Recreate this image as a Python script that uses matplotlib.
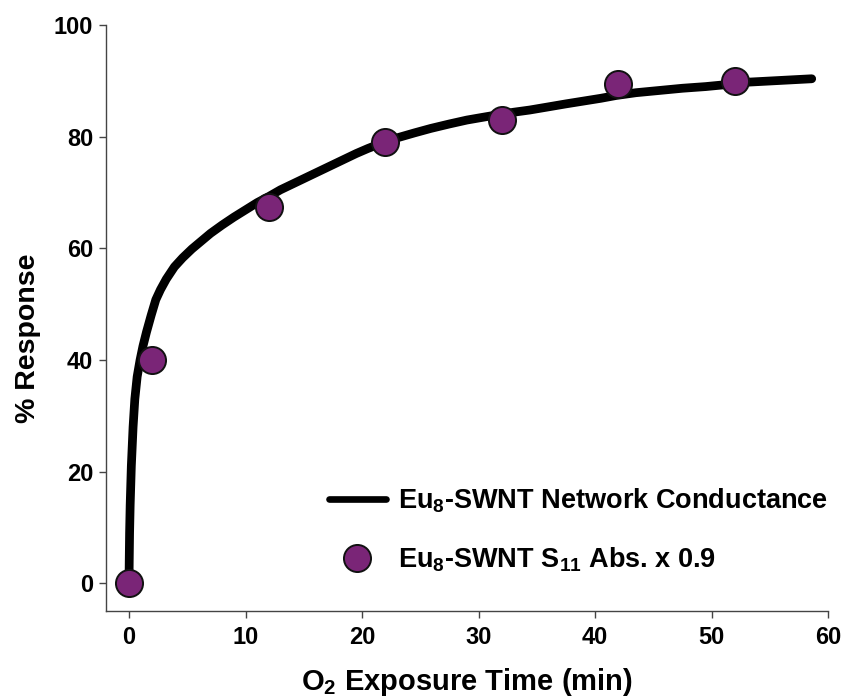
import matplotlib
matplotlib.use("Agg")
import matplotlib.pyplot as plt

plt.rcParams["font.family"] = ["Liberation Sans", "DejaVu Sans"]
plt.rcParams["font.weight"] = "bold"
plt.rcParams["mathtext.fontset"] = "custom"
plt.rcParams["mathtext.rm"] = "Liberation Sans:bold"
plt.rcParams["mathtext.bf"] = "Liberation Sans:bold"
plt.rcParams["mathtext.it"] = "Liberation Sans:bold"
plt.rcParams["mathtext.default"] = "bf"

# Network conductance response (continuous trace)
time_cond = [0.0, 0.02, 0.05, 0.1, 0.2, 0.35, 0.5, 0.7, 0.95, 1.2, 1.5, 1.9, 2.3,
             2.7, 3.2, 3.9, 4.6, 5.4, 6.2, 7.0, 8.0, 9.0, 10.0, 11.0, 12.0, 13.0,
             14.0, 15.0, 16.0, 17.3, 18.5, 19.5, 20.5, 21.6, 23.0, 24.5, 25.9,
             27.5, 29.0, 30.1, 31.5, 33.0, 34.4, 36.1, 37.5, 38.7, 40.5,
             41.8, 43.5, 45.5, 47.5, 49.5, 51.0, 53.2, 55.0, 56.8, 58.6]
resp_cond = [0.0, 4.0, 9.0, 14.0, 21.0, 28.0, 33.0, 37.0, 40.0, 42.5, 45.0, 48.0, 50.8,
             52.6, 54.5, 56.7, 58.3, 59.9, 61.3, 62.7, 64.2, 65.6, 66.9, 68.2, 69.3, 70.5,
             71.5, 72.5, 73.5, 74.8, 76.0, 77.0, 77.9, 78.8, 79.8, 80.7, 81.5,
             82.3, 83.0, 83.4, 83.9, 84.4, 84.8, 85.4, 85.9, 86.3, 86.9,
             87.4, 87.9, 88.3, 88.7, 89.0, 89.3, 89.8, 90.0, 90.2, 90.4]

# S11 absorbance response scaled by 0.9
time_abs = [0, 2, 12, 22, 32, 42, 52]
resp_abs = [0, 40.0, 67.4, 79.1, 83.0, 89.5, 90.0]

x_ticks = [0, 10, 20, 30, 40, 50, 60]
y_ticks = [0, 20, 40, 60, 80, 100]

fig = plt.figure(figsize=(8.49, 7.0), dpi=100)
ax = fig.add_axes([0.1245, 0.127, 0.8508, 0.837])

ax.plot(time_cond, resp_cond, color="black", lw=6.3, solid_capstyle="round",
        solid_joinstyle="round", label=r"Eu$_8$-SWNT Network Conductance", zorder=2)
ax.plot(time_abs, resp_abs, linestyle="none", marker="o", markersize=19.5,
        markerfacecolor="#7a2577", markeredgecolor="#111111", markeredgewidth=1.4,
        label=r"Eu$_8$-SWNT S$_{11}$ Abs. x 0.9", zorder=3, clip_on=False)

ax.set_xlim(-2, 60)
ax.set_ylim(-5, 100)
ax.set_xticks(x_ticks)
ax.set_yticks(y_ticks)

for side in ("top", "right"):
    ax.spines[side].set_visible(False)
for side in ("left", "bottom"):
    ax.spines[side].set_color("#444444")
    ax.spines[side].set_linewidth(1.0)

ax.tick_params(direction="out", length=5, width=1.0, color="#444444", labelsize=17)
ax.tick_params(axis="x", pad=6)
ax.tick_params(axis="y", pad=4)
for lab in ax.get_xticklabels() + ax.get_yticklabels():
    lab.set_fontweight("bold")

ax.set_xlabel(r"O$_2$ Exposure Time (min)", fontsize=21, fontweight="bold", labelpad=12)
ax.set_ylabel("% Response", fontsize=20.5, fontweight="bold")
ax.yaxis.set_label_coords(-0.090, 0.466)

leg = ax.legend(loc="lower right", bbox_to_anchor=(1.0, 0.064), frameon=False,
                fontsize=19.5, handlelength=2.1, handletextpad=0.45, labelspacing=1.12,
                markerscale=1.0, borderaxespad=0.0, borderpad=0.0)
leg.get_lines()[0].set_linewidth(4.8)

fig.savefig("out.png", dpi=100)
